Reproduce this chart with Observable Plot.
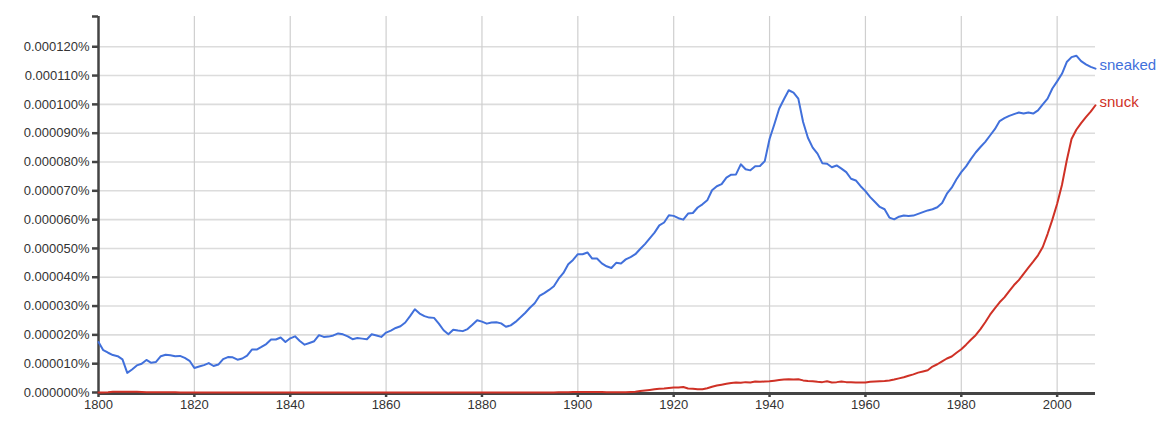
<!DOCTYPE html>
<html>
<head>
<meta charset="utf-8">
<script src="https://cdn.jsdelivr.net/npm/d3@7"></script>
<script src="https://cdn.jsdelivr.net/npm/@observablehq/plot@0.6"></script>
<style>
  html, body { margin: 0; padding: 0; background: #fff; }
  #chart svg { display: block; }
</style>
</head>
<body>
<div id="chart"></div>
<script>
// Years 1800..2008
const startYear = 1800;
const endYear = 2008;

// Values in units of 0.000001 %
const sneaked = [
  17.5,14.7,13.8,13.0,12.6,11.5,6.8,8.0,9.4,10.0,
  11.3,10.3,10.6,12.6,13.1,12.9,12.6,12.7,12.0,11.0,
  8.5,9.0,9.5,10.2,9.2,9.7,11.6,12.3,12.2,11.4,
  11.8,12.8,14.9,14.9,15.8,16.8,18.4,18.4,19.1,17.5,
  18.8,19.5,17.9,16.6,17.2,17.8,19.9,19.3,19.4,19.8,
  20.5,20.2,19.5,18.5,18.9,18.7,18.5,20.2,19.8,19.3,
  20.8,21.5,22.4,23.0,24.3,26.5,28.9,27.4,26.5,26.0,
  25.9,23.9,21.6,20.2,21.8,21.5,21.3,22.0,23.5,25.1,
  24.6,23.9,24.3,24.4,24.0,22.8,23.3,24.5,26.0,27.6,
  29.4,31.0,33.5,34.5,35.6,36.9,39.5,41.5,44.5,46.0,
  48.0,48.0,48.6,46.5,46.5,44.8,43.8,43.2,45.0,44.8,
  46.2,47.0,48.0,49.8,51.5,53.5,55.5,58.0,59.0,61.5,
  61.3,60.5,60.0,62.1,62.3,64.2,65.3,66.7,70.2,71.6,
  72.3,74.6,75.6,75.7,79.2,77.5,77.1,78.5,78.6,80.3,
  88.0,93.1,98.5,101.8,104.9,104.1,102.0,93.9,88.4,85.0,
  82.9,79.6,79.4,78.2,78.8,77.7,76.5,74.2,73.6,71.6,
  69.9,67.8,66.1,64.4,63.6,60.7,60.1,61.0,61.4,61.3,
  61.4,62.0,62.6,63.2,63.6,64.3,65.8,69.0,71.1,74.0,
  76.5,78.5,81.0,83.3,85.2,87.0,89.2,91.4,94.2,95.2,
  96.0,96.6,97.2,96.8,97.2,96.8,97.9,100.0,102.0,105.5,
  108.0,110.6,114.7,116.4,116.9,115.0,113.9,113.0,112.4
];

const snuck = [
  0.0,0.0,0.1,0.3,0.3,0.3,0.3,0.3,0.3,0.2,
  0.1,0.1,0.1,0.1,0.1,0.1,0.1,0.0,0.0,0.0,
  0.0,0.0,0.0,0.0,0.0,0.0,0.0,0.0,0.0,0.0,
  0.0,0.0,0.0,0.0,0.0,0.0,0.0,0.0,0.0,0.0,
  0.0,0.0,0.0,0.0,0.0,0.0,0.0,0.0,0.0,0.0,
  0.0,0.0,0.0,0.0,0.0,0.0,0.0,0.0,0.0,0.0,
  0.0,0.0,0.0,0.0,0.0,0.0,0.0,0.0,0.0,0.0,
  0.0,0.0,0.0,0.0,0.0,0.0,0.0,0.0,0.0,0.0,
  0.0,0.0,0.0,0.0,0.0,0.0,0.0,0.0,0.0,0.0,
  0.0,0.0,0.0,0.0,0.0,0.0,0.1,0.1,0.1,0.2,
  0.2,0.2,0.2,0.2,0.2,0.2,0.1,0.1,0.1,0.1,
  0.1,0.2,0.3,0.5,0.7,0.9,1.1,1.3,1.4,1.6,
  1.7,1.7,1.9,1.4,1.3,1.1,1.1,1.5,2.0,2.4,
  2.7,3.0,3.3,3.5,3.4,3.6,3.5,3.8,3.7,3.8,
  3.9,4.1,4.3,4.5,4.6,4.5,4.6,4.2,4.0,3.9,
  3.7,3.6,3.9,3.5,3.6,3.8,3.6,3.6,3.5,3.5,
  3.5,3.7,3.8,3.9,4.0,4.2,4.5,4.9,5.3,5.8,
  6.3,6.9,7.3,7.7,9.0,9.8,10.8,11.8,12.5,13.8,
  15.0,16.6,18.3,19.9,22.0,24.4,27.0,29.2,31.3,33.0,
  35.2,37.3,39.0,41.2,43.3,45.4,47.6,50.5,55.0,60.0,
  65.5,72.0,80.5,88.0,91.2,93.5,95.6,97.5,99.7
];

const seriesNames = ["sneaked", "snuck"];
const seriesColors = ["#4170db", "#cf3126"];

const yTicks = [0,10,20,30,40,50,60,70,80,90,100,110,120];
const xTicks = [1800,1820,1840,1860,1880,1900,1920,1940,1960,1980,2000];
const yMax = 130.5;

const years = d3.range(startYear, endYear + 1);
const rows = [];
years.forEach((yr, i) => {
  rows.push({year: yr, value: sneaked[i], series: "sneaked"});
  rows.push({year: yr, value: snuck[i], series: "snuck"});
});
const lastRows = seriesNames.map(s => rows.filter(r => r.series === s).slice(-1)[0]);

const fmtPct = d => (d * 1e-6).toFixed(6) + "%";

const chart = Plot.plot({
  width: 1169,
  height: 424,
  marginLeft: 98,
  marginRight: 74,
  marginTop: 16,
  marginBottom: 32,
  style: {fontFamily: "'Liberation Sans', Arial, Helvetica, sans-serif", fontSize: "13px", color: "#333", background: "#fff"},
  x: {domain: [startYear, endYear], axis: null},
  y: {domain: [0, yMax], axis: null},
  color: {domain: seriesNames, range: seriesColors},
  marks: [
    Plot.gridY(yTicks.slice(1), {stroke: "#dcdcdc", strokeOpacity: 1, strokeWidth: 1.6}),
    Plot.gridX(xTicks.slice(1), {stroke: "#cfcfcf", strokeOpacity: 1, strokeWidth: 1.2}),
    Plot.ruleY([0], {stroke: "#444", strokeWidth: 3, dy: 1}),
    Plot.ruleX([startYear], {stroke: "#444", strokeWidth: 2.5}),
    Plot.axisY(yTicks, {label: null, tickFormat: fmtPct, tickSize: 6, tickPadding: 3, stroke: "#444", strokeWidth: 2.5, fill: "#333", fontSize: 13}),
    Plot.axisY([yMax], {label: null, tickFormat: () => "", tickSize: 6, stroke: "#444", strokeWidth: 2.5}),
    Plot.axisX(xTicks, {label: null, tickFormat: d => String(d), tickSize: 5, tickPadding: 2, stroke: "#444", strokeWidth: 2.5, fill: "#333", fontSize: 13}),
    Plot.line(rows, {x: "year", y: "value", z: "series", stroke: "series", strokeWidth: 2, curve: "linear"}),
    Plot.text(lastRows, {x: "year", y: "value", text: "series", fill: "series", textAnchor: "start", dx: 4, dy: -3, fontSize: 15})
  ]
});

document.getElementById("chart").appendChild(chart);
</script>
</body>
</html>
